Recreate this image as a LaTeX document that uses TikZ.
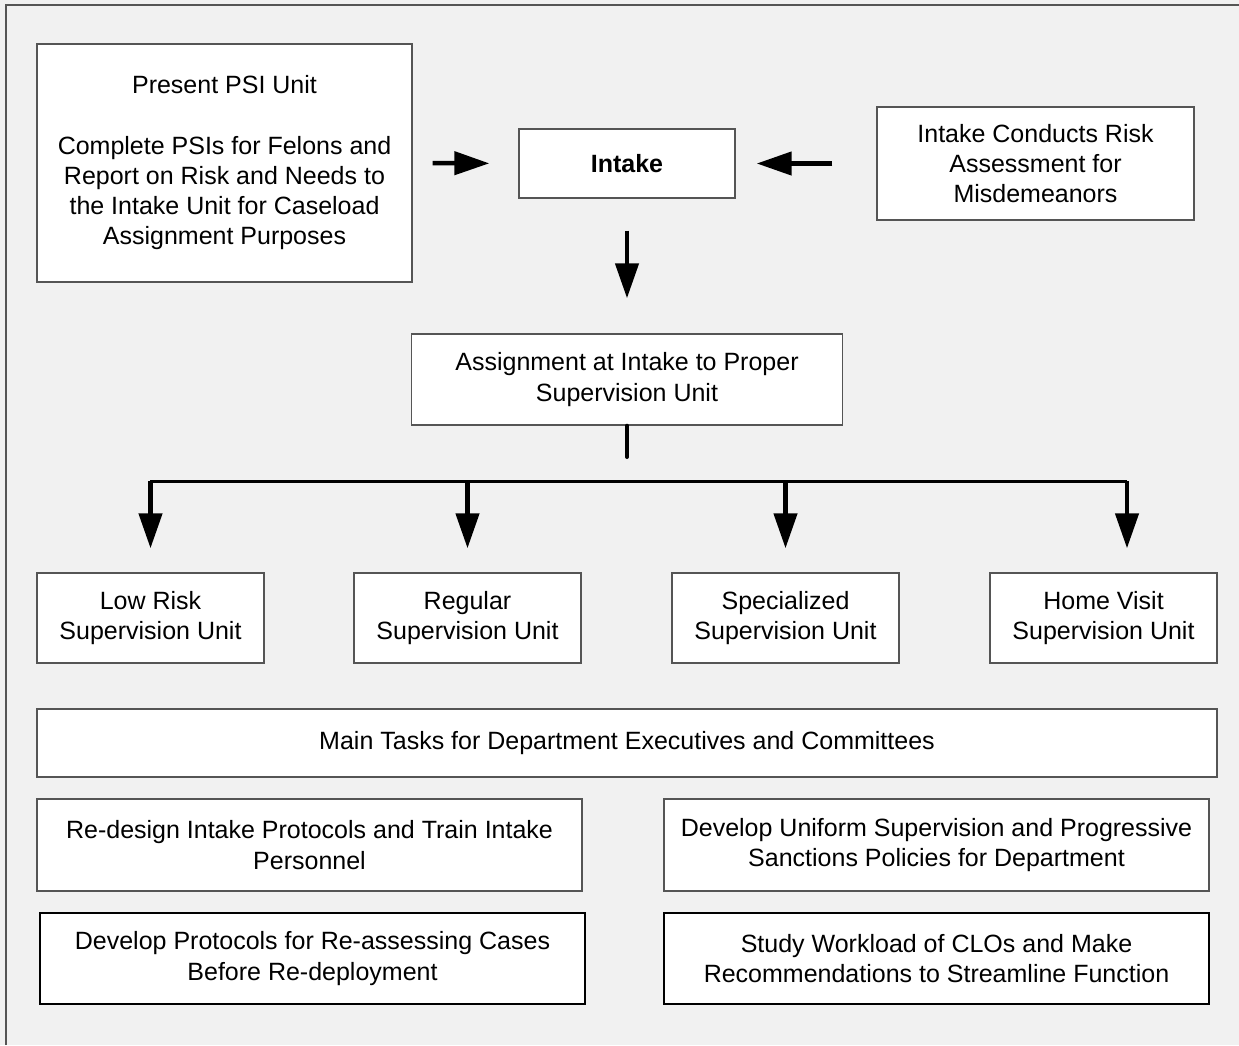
\documentclass[tikz,border=0pt]{standalone}
\usepackage{fontspec}
\setmainfont{Liberation Sans}
\usepackage{tikz}
\usetikzlibrary{arrows.meta}

\definecolor{pagebg}{HTML}{F1F1F1}
\definecolor{boxline}{HTML}{555555}

\begin{document}
\begin{tikzpicture}[x=1pt, y=-1pt,
    box/.style={draw=boxline, line width=1.4pt, fill=white, align=center, inner sep=0pt,
        font=\fontsize{25}{30.2}\selectfont},
    darkbox/.style={box, draw=black, line width=2pt},
    fatarrow/.style={line width=4.5pt, -{Triangle[width=23pt, length=35pt]}}]
\useasboundingbox (0, 0) rectangle (1239, 1045);
\fill[pagebg] (0, 0) rectangle (1239, 1045);
\draw[boxline, line width=1.4pt] (6, 1045) -- (6, 5) -- (1239, 5);

% top row
\node[box, minimum width=375pt, minimum height=238pt] (psi) at (224.5, 163)
    {Present PSI Unit\\[30.2pt]Complete PSIs for Felons and\\Report on Risk and Needs to\\the Intake Unit for Caseload\\Assignment Purposes};
\node[box, minimum width=216pt, minimum height=69pt] (intake) at (627, 163.5) {\textbf{Intake}};
\node[box, minimum width=317pt, minimum height=113pt] (risk) at (1035.5, 163.5)
    {Intake Conducts Risk\\Assessment for\\Misdemeanors};
\node[box, minimum width=431pt, minimum height=91pt] (assign) at (627, 379.5)
    {Assignment at Intake to Proper\\Supervision Unit};

\draw[fatarrow, shorten <=20pt, shorten >=29pt] (psi.east) -- (intake.west);
\draw[fatarrow, shorten <=44pt, shorten >=21pt] (risk.west) -- (intake.east);
\draw[fatarrow, shorten <=32pt, shorten >=35pt] (intake.south) -- (assign.north);

% supervision units
\node[box, minimum width=227pt, minimum height=90pt] (lowrisk) at (150.5, 618) {Low Risk\\Supervision Unit};
\node[box, minimum width=227pt, minimum height=90pt] (regular) at (467.5, 618) {Regular\\Supervision Unit};
\node[box, minimum width=227pt, minimum height=90pt] (special) at (785.5, 618) {Specialized\\Supervision Unit};
\node[box, minimum width=227pt, minimum height=90pt] (homevisit) at (1103.5, 618) {Home Visit\\Supervision Unit};

\coordinate (stub) at (627, 457);
\coordinate (busL) at (150, 481);
\coordinate (busR) at (1127, 481);
\draw[line width=4pt, line cap=round] (assign.south) -- (stub);
\draw[line width=3pt] (busL) -- (busR);
\foreach \u in {lowrisk, regular, special}
    \draw[fatarrow, shorten >=24pt] (\u.north |- busL) -- (\u.north);
\draw[fatarrow, shorten >=24pt] (busR) -- (busR |- homevisit.north);

% tasks
\node[box, minimum width=1180pt, minimum height=68pt] (tasks) at (627, 743)
    {Main Tasks for Department Executives and Committees};
\node[box, minimum width=545pt, minimum height=92pt] (redesign) at (309.5, 845)
    {Re-design Intake Protocols and Train Intake\\Personnel};
\node[box, minimum width=545pt, minimum height=92pt] (uniform) at (936.5, 845)
    {Develop Uniform Supervision and Progressive\\Sanctions Policies for Department};
\node[darkbox, minimum width=545pt, minimum height=91pt] (reassess) at (312.5, 958.5)
    {Develop Protocols for Re-assessing Cases\\Before Re-deployment};
\node[darkbox, minimum width=545pt, minimum height=91pt] (workload) at (936.5, 958.5)
    {Study Workload of CLOs and Make\\Recommendations to Streamline Function};
\end{tikzpicture}
\end{document}
